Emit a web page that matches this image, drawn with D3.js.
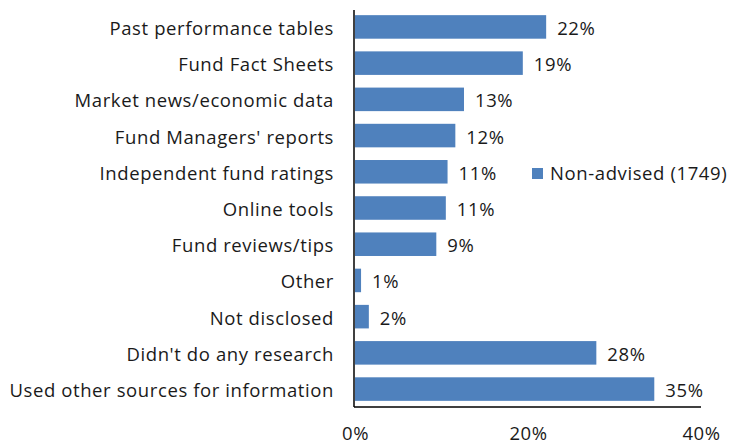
<!DOCTYPE html>
<html>
<head>
<meta charset="utf-8">
<script src="https://cdn.jsdelivr.net/npm/d3@7"></script>
<style>
  body { margin: 0; background: #fff; }
  text { font-family: "Open Sans", sans-serif; fill: #1a1a1a; letter-spacing: 0.6px; }
</style>
</head>
<body>
<script>
// Sources of research used, non-advised investors (share of respondents, %)
var categories = ["Past performance tables", "Fund Fact Sheets", "Market news/economic data",
  "Fund Managers' reports", "Independent fund ratings", "Online tools", "Fund reviews/tips",
  "Other", "Not disclosed", "Didn't do any research", "Used other sources for information"];
var values = [22.1, 19.4, 12.6, 11.6, 10.7, 10.5, 9.4, 0.7, 1.6, 27.9, 34.6];
var xTicks = [0, 20, 40];
var seriesName = "Non-advised (1749)";

var barColor = "#4f81bd";
var fontSize = "18.5px";

var svg = d3.select("body").append("svg")
  .attr("width", 729)
  .attr("height", 445);

var x = d3.scaleLinear().domain([0, 40]).range([355, 701]);
var y = d3.scaleBand().domain(categories).range([9, 407]).paddingInner(0.35).paddingOuter(0.17);

// bars
svg.selectAll("rect.bar").data(values).enter()
  .append("rect")
  .attr("class", "bar")
  .attr("x", x(0))
  .attr("y", function(d, i) { return y(categories[i]); })
  .attr("width", function(d) { return x(d) - x(0); })
  .attr("height", y.bandwidth())
  .attr("fill", barColor);

// value labels
svg.selectAll("text.val").data(values).enter()
  .append("text")
  .attr("class", "val")
  .attr("x", function(d) { return x(d) + 11; })
  .attr("y", function(d, i) { return y(categories[i]) + y.bandwidth() / 2; })
  .attr("dy", 8)
  .style("font-size", fontSize)
  .text(function(d) { return Math.round(d) + "%"; });

// category axis (left)
var yAxis = svg.append("g")
  .attr("transform", "translate(" + (x(0) - 1) + ",0)")
  .call(d3.axisLeft(y).tickSize(0).tickPadding(20));
yAxis.select(".domain").attr("stroke", "#000").attr("stroke-width", 1.5)
  .attr("d", "M0,10V" + 407);
yAxis.selectAll("text")
  .attr("dy", 8)
  .style("font-size", fontSize)
  .style("font-family", "'Open Sans', sans-serif")
  .attr("fill", "#1a1a1a");

// value axis (bottom)
var xAxis = svg.append("g")
  .attr("transform", "translate(0,407)")
  .call(d3.axisBottom(x).tickValues(xTicks).tickSize(0).tickPadding(33)
    .tickFormat(function(d) { return d + "%"; }));
xAxis.select(".domain").attr("stroke", "#000").attr("stroke-width", 1.5)
  .attr("d", "M" + (x(0) - 1) + ",0H" + x(40));
xAxis.selectAll("text")
  .attr("dy", 0)
  .style("font-size", fontSize)
  .style("font-family", "'Open Sans', sans-serif")
  .attr("fill", "#1a1a1a");

// legend
var legend = svg.append("g").attr("transform", "translate(532,168)");
legend.append("rect").attr("width", 11).attr("height", 11).attr("fill", barColor);
legend.append("text").attr("x", 18).attr("y", 12)
  .style("font-size", fontSize)
  .text(seriesName);
</script>
</body>
</html>
